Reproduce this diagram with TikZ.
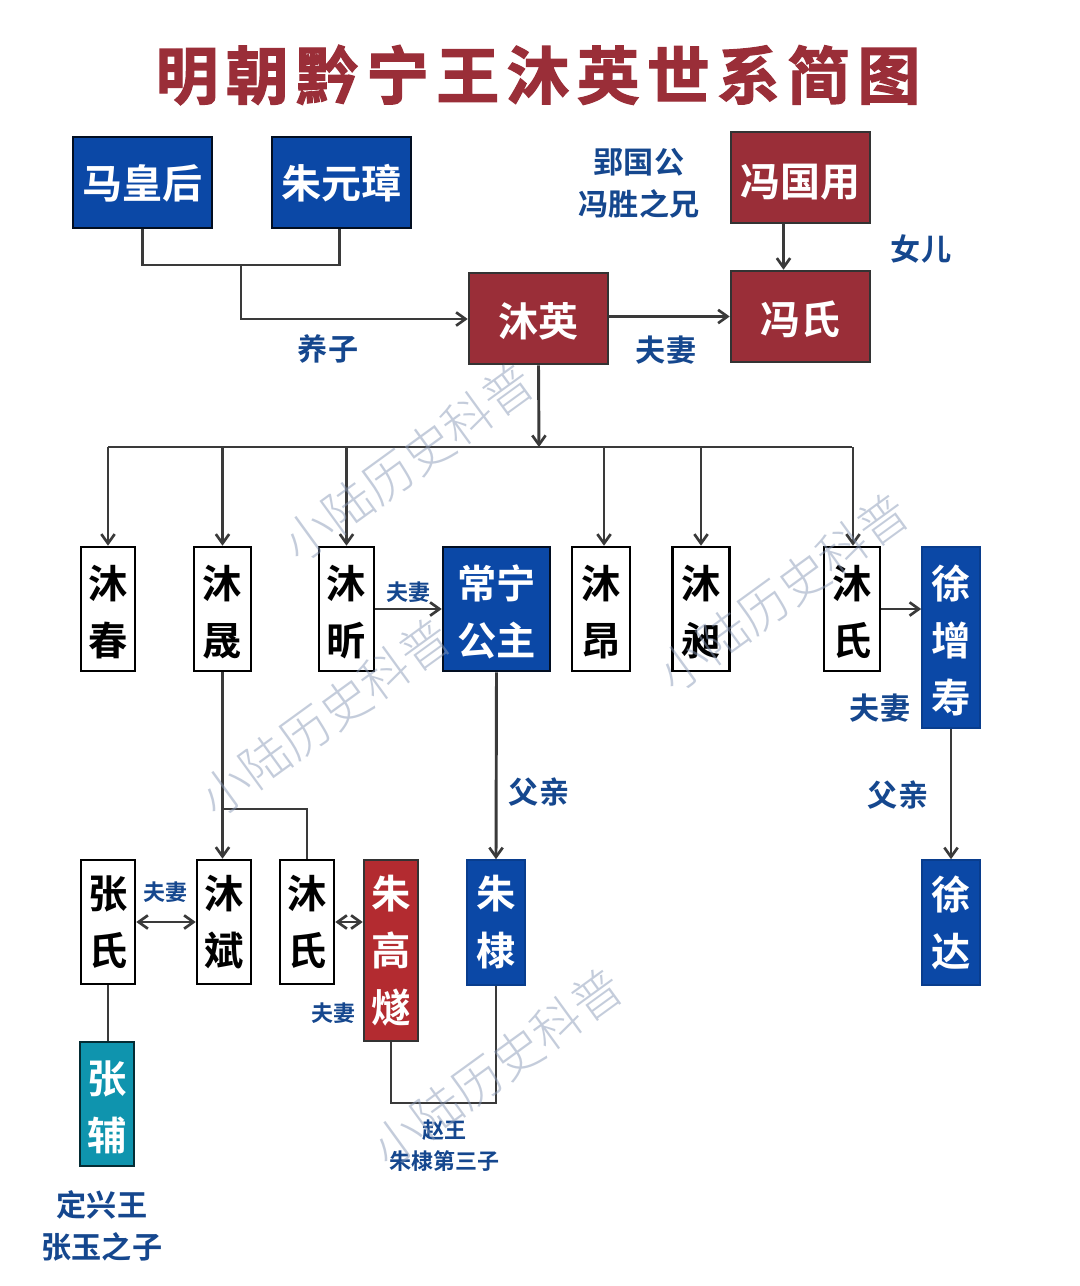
\documentclass[tikz,border=0pt]{standalone}
\usepackage{fontspec}
\usetikzlibrary{arrows.meta,calc}
\setmainfont{Noto Sans CJK SC}[BoldFont={Noto Sans CJK SC Bold}]
\newfontfamily\cjkw{Noto Sans CJK SC Light}
\newfontfamily\cjktitle{Noto Sans CJK SC Bold}[LetterSpace=12,FakeBold=2]
\newcommand{\tp}[1]{\rule{0pt}{#1pt}}
\definecolor{navy}{HTML}{0B48A6}
\definecolor{wine}{HTML}{9A2E38}
\definecolor{brick}{HTML}{B32B30}
\definecolor{teal2}{HTML}{0F94AE}
\definecolor{lblue}{HTML}{15478E}
\definecolor{lin}{HTML}{3A3A3A}
\definecolor{wm}{HTML}{8A9BB8}
\tikzset{
  x=0.75pt,y=-0.75pt,
  sz/.style 2 args={minimum width=#1*0.75pt,minimum height=#2*0.75pt},
  boxbase/.style={inner sep=0pt,align=center,font=\bfseries\fontsize{29.5pt}{42.75pt}\selectfont},
  wbox/.style={boxbase,draw=black,line width=1.9pt,fill=white,text=black},
  nbox/.style={boxbase,draw=navy!85!black,line width=1.2pt,fill=navy,text=white},
  dnbox/.style={boxbase,draw=black!80!navy,line width=1.9pt,fill=navy,text=white},
  rbox/.style={boxbase,draw=black!80,line width=1.9pt,fill=wine,text=white},
  brbox/.style={boxbase,draw=black!80,line width=1.9pt,fill=brick,text=white},
  tbox/.style={boxbase,draw=black!70!teal2,line width=1.9pt,fill=teal2,text=white},
  big/.style={font=\bfseries\fontsize{30pt}{30pt}\selectfont},
  lab/.style={inner sep=0pt,align=center,text=lblue,font=\bfseries\fontsize{22.6pt}{31.5pt}\selectfont},
  slab/.style={inner sep=0pt,align=center,text=lblue,font=\bfseries\fontsize{16.5pt}{23.25pt}\selectfont},
  wmark/.style={inner sep=0pt,text=wm,text opacity=0.5,rotate=36,font=\cjkw\fontsize{37pt}{37pt}\selectfont},
  conn/.style={draw=lin,line width=2.2pt,line join=miter},
  arr/.style={conn,-{Straight Barb[length=7pt,width=10pt,line width=2pt]}},
  darr/.style={conn,{Straight Barb[length=7pt,width=10pt,line width=2pt]}-{Straight Barb[length=7pt,width=10pt,line width=2pt]}},
}
\begin{document}
\begin{tikzpicture}
\useasboundingbox[fill=white] (0,0) rectangle (1080,1286);
% title
\node[inner sep=0pt,text=wine] (title) at (538,75) {\cjktitle\fontsize{47pt}{47pt}\selectfont 明朝黔宁王沐英世系简图};
% top row
\node[nbox,draw=black!80!navy,line width=1.9pt,big,sz={139}{91}] (mahou) at (142.5,182.5) {\tp{27}马皇后};
\node[nbox,draw=black!80!navy,line width=1.9pt,big,sz={139}{91}] (zhuyz) at (341.5,182.5) {\tp{27}朱元璋};
\node[rbox,big,sz={139}{91}] (fengguo) at (800.5,177.5) {\tp{31}冯国用};
\node[rbox,big,sz={139}{91}] (fengshi) at (800.5,316.5) {\tp{29}冯氏};
\node[rbox,big,sz={139}{91}] (muying) at (538.5,318.5) {\tp{29}沐英};
% second row
\node[wbox,sz={54}{124}] (muchun) at (108,609) {\tp{29.5}沐\\春};
\node[wbox,sz={57}{124}] (musheng) at (222.5,609) {\tp{29.5}沐\\晟};
\node[wbox,sz={55}{124}] (muxin) at (346.5,609) {\tp{29.5}沐\\昕};
\node[dnbox,sz={107}{124}] (changning) at (496.5,609) {\tp{29.5}常宁\\公主};
\node[wbox,sz={58}{124}] (muang) at (601,609) {\tp{29.5}沐\\昂};
\node[wbox,sz={57}{124}] (muchang) at (701,609) {\tp{29.5}沐\\昶};
\node[wbox,sz={56}{124}] (mushia) at (852,609) {\tp{29.5}沐\\氏};
\node[nbox,sz={58}{181}] (xuzs) at (951,637.5) {\tp{29.5}徐\\增\\寿};
% third row
\node[wbox,sz={54}{124}] (zhangshi) at (108,922) {张\\氏};
\node[wbox,sz={54}{124}] (mubin) at (224,922) {沐\\斌};
\node[wbox,sz={54}{124}] (mushib) at (307,922) {沐\\氏};
\node[brbox,sz={54}{181}] (zhugs) at (391,950.5) {朱\\高\\燧};
\node[nbox,sz={58}{125}] (zhudi) at (496,922.5) {朱\\棣};
\node[nbox,sz={58}{125}] (xuda) at (951,922.5) {徐\\达};
\node[tbox,sz={54}{124}] (zhangfu) at (107,1104) {\tp{29.5}张\\辅};
% labels
\node[lab] (l1) at (639,183) {郢国公\\冯胜之兄};
\node[lab] (l2) at (921,249) {女儿};
\node[lab] (l3) at (328,349) {养子};
\node[lab] (l4) at (666,350) {夫妻};
\node[lab] (l5) at (539,792) {父亲};
\node[lab] (l6) at (898,795) {父亲};
\node[lab] (l7) at (880,708) {夫妻};
\node[slab] (s1) at (408.5,592) {夫妻};
\node[slab] (s2) at (165,892) {夫妻};
\node[slab] (s3) at (333.5,1013) {夫妻};
\node[slab] (s4) at (444.5,1146) {赵王\\朱棣第三子};
\node[lab] (l8) at (102,1226) {定兴王\\张玉之子};
% junctions
\coordinate (jtop) at (241,265);
\coordinate (jmy) at (241,319);
\coordinate (jbar) at (539,447);
\coordinate (jsh) at (223,809);
\coordinate (jzh) at (444,1103);
% connectors
\draw[conn] (mahou.south) |- (jtop) -| ($(zhuyz.south)+(-2,0)$);
\draw[arr] (jtop) -- (jmy) -- (jmy -| muying.west);
\draw[arr] (muying.east |- fengshi.west) -- (fengshi.west);
\draw[arr] ($(fengguo.south)+(-17,0)$) -- ($(fengshi.north)+(-17,0)$);
\draw[arr] (muying.south) -- (jbar);
\draw[conn] (jbar -| muchun.north) -- (jbar -| mushia.north);
\foreach \c/\d in {muchun/0,musheng/0,muxin/0,muang/3,muchang/0,mushia/1}{
  \draw[arr] ($(jbar -| \c.north)+(\d,0)$) -- ($(\c.north)+(\d,0)$);
}
\draw[arr] (muxin.east) -- (changning.west);
\draw[arr] (mushia.east) -- (mushia.east -| xuzs.west);
\draw[arr] (musheng.south) -- (musheng.south |- mubin.north);
\draw[conn] (jsh) -| (mushib.north);
\draw[arr] (changning.south) -- (zhudi.north);
\draw[arr] (xuzs.south) -- (xuda.north);
\draw[darr] (zhangshi.east) -- (mubin.west);
\draw[darr] (mushib.east) -- (mushib.east -| zhugs.west);
\draw[conn] (zhangshi.south) -- (zhangshi.south |- zhangfu.north);
\draw[conn] (zhugs.south) |- (jzh) -| (zhudi.south);
% watermarks lie over everything
\node[wmark] (wma) at (408,462) {小陆历史科普};
\node[wmark] (wmb) at (325,717) {小陆历史科普};
\node[wmark] (wmc) at (783,592) {小陆历史科普};
\node[wmark] (wmd) at (497,1067) {小陆历史科普};
\end{tikzpicture}
\end{document}
